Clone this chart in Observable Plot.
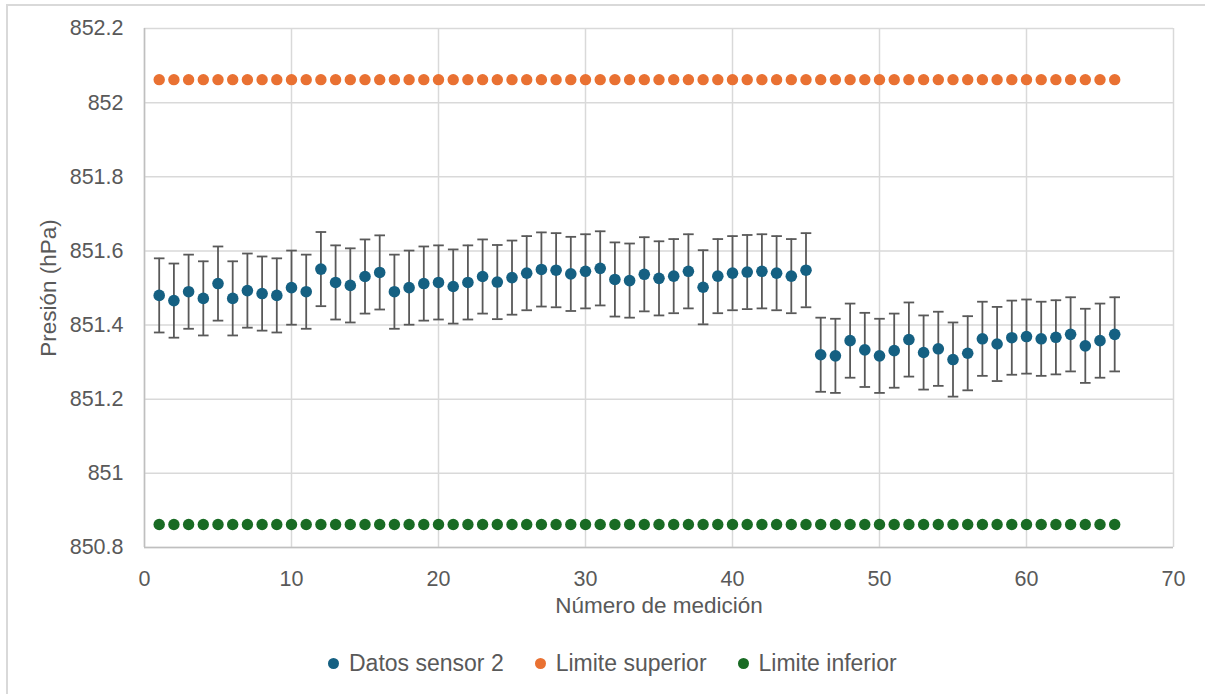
<!DOCTYPE html>
<html>
<head>
<meta charset="utf-8">
<script src="https://cdn.jsdelivr.net/npm/d3@7"></script>
<script src="https://cdn.jsdelivr.net/npm/@observablehq/plot@0.6"></script>
<style>
  html, body { margin: 0; padding: 0; background: #fff; overflow: hidden; }
  #wrap { position: relative; width: 1205px; height: 694px; overflow: hidden; font-family: "Liberation Sans", Arial, sans-serif; }
  #border { position: absolute; left: 6px; top: 4px; width: 1300px; height: 800px; border: 2px solid #d9d9d9; box-sizing: border-box; }
  #chart { position: absolute; left: 0; top: 0; }
  #legend { position: absolute; left: 328px; top: 649px; display: flex; align-items: center; font-size: 23px; line-height: 28px; color: #595959; white-space: nowrap; }
  .item { display: flex; align-items: center; margin-right: 31px; }
  .sw { width: 11px; height: 11px; border-radius: 50%; margin-right: 10px; }
</style>
</head>
<body>
<div id="wrap">
  <div id="border"></div>
  <div id="chart"></div>
  <div id="legend"></div>
</div>
<script>
// ---- data ----
const sensor2 = [
  851.480, 851.466, 851.490, 851.472, 851.512, 851.472, 851.493, 851.485, 851.480, 851.501,
  851.490, 851.551, 851.515, 851.507, 851.531, 851.542, 851.490, 851.501, 851.512, 851.515,
  851.504, 851.515, 851.531, 851.516, 851.528, 851.540, 851.550, 851.548, 851.538, 851.545,
  851.553, 851.523, 851.520, 851.537, 851.526, 851.532, 851.545, 851.502, 851.532, 851.540,
  851.543, 851.545, 851.540, 851.532, 851.548,
  851.320, 851.317, 851.358, 851.333, 851.317, 851.331, 851.361, 851.326, 851.336, 851.307,
  851.324, 851.363, 851.349, 851.366, 851.369, 851.363, 851.367, 851.375, 851.344, 851.358,
  851.375
];
const errorBar = 0.1;
const limiteSuperior = 852.062;
const limiteInferior = 850.862;
const xTicks = [0, 10, 20, 30, 40, 50, 60, 70];
const yTicks = [850.8, 851, 851.2, 851.4, 851.6, 851.8, 852, 852.2];
const seriesNames = ["Datos sensor 2", "Limite superior", "Limite inferior"];
const seriesColors = ["#156082", "#E97132", "#196B24"];
const xTitle = "Número de medición";
const yTitle = "Presión (hPa)";

const rows = sensor2.map((v, i) => ({n: i + 1, v, sup: limiteSuperior, inf: limiteInferior}));

const capSymbol = {
  draw(context, size) {
    const r = Math.sqrt(size / Math.PI);
    context.moveTo(-r, 0);
    context.lineTo(r, 0);
  }
};

const textColor = "#595959";
const chart = Plot.plot({
  width: 1205,
  height: 640,
  marginTop: 28,
  marginLeft: 144,
  marginRight: 32,
  marginBottom: 93,
  style: {fontFamily: '"Liberation Sans", Arial, sans-serif', color: textColor, background: "transparent", overflow: "visible"},
  x: {domain: [0, 70], ticks: xTicks, tickSize: 0, tickPadding: 23, label: null},
  y: {domain: [850.8, 852.2], ticks: yTicks, tickSize: 0, tickPadding: 21, label: null, tickFormat: d => String(+d.toFixed(1))},
  marks: [
    Plot.gridX(xTicks, {stroke: "#d9d9d9", strokeOpacity: 1, strokeWidth: 1.5}),
    Plot.gridY(yTicks, {stroke: "#d9d9d9", strokeOpacity: 1, strokeWidth: 1.5}),
    Plot.ruleX([0], {stroke: "#bfbfbf", strokeWidth: 1.5}),
    Plot.ruleY([850.8], {stroke: "#bfbfbf", strokeWidth: 1.5}),
    Plot.axisX({ticks: xTicks, tickSize: 0, tickPadding: 23, fontSize: 21.5, fill: textColor, label: null}),
    Plot.axisY({ticks: yTicks, tickSize: 0, tickPadding: 21, fontSize: 21.5, fill: textColor, label: null, tickFormat: d => String(+d.toFixed(1))}),
    Plot.dot(rows, {x: "n", y: "sup", r: 5.7, fill: seriesColors[1]}),
    Plot.dot(rows, {x: "n", y: "inf", r: 5.7, fill: seriesColors[2]}),
    Plot.ruleX(rows, {x: "n", y1: d => d.v - errorBar, y2: d => d.v + errorBar, stroke: "#595959", strokeWidth: 1.8}),
    Plot.dot(rows, {x: "n", y: d => d.v + errorBar, r: 5.3, symbol: capSymbol, stroke: "#595959", strokeWidth: 1.8, fill: "none"}),
    Plot.dot(rows, {x: "n", y: d => d.v - errorBar, r: 5.3, symbol: capSymbol, stroke: "#595959", strokeWidth: 1.8, fill: "none"}),
    Plot.dot(rows, {x: "n", y: "v", r: 5.8, fill: seriesColors[0]}),
    Plot.text([xTitle], {frameAnchor: "bottom", dy: 58, lineAnchor: "middle", textAnchor: "middle", fontSize: 22.5, fill: textColor}),
    Plot.text([yTitle], {frameAnchor: "left", dx: -96, rotate: -90, lineAnchor: "middle", textAnchor: "middle", fontSize: 22.5, fill: textColor})
  ]
});
document.getElementById("chart").appendChild(chart);

const legend = document.getElementById("legend");
seriesNames.forEach((name, i) => {
  const item = document.createElement("div");
  item.className = "item";
  const sw = document.createElement("span");
  sw.className = "sw";
  sw.style.background = seriesColors[i];
  const t = document.createElement("span");
  t.textContent = name;
  item.appendChild(sw);
  item.appendChild(t);
  legend.appendChild(item);
});
</script>
</body>
</html>
